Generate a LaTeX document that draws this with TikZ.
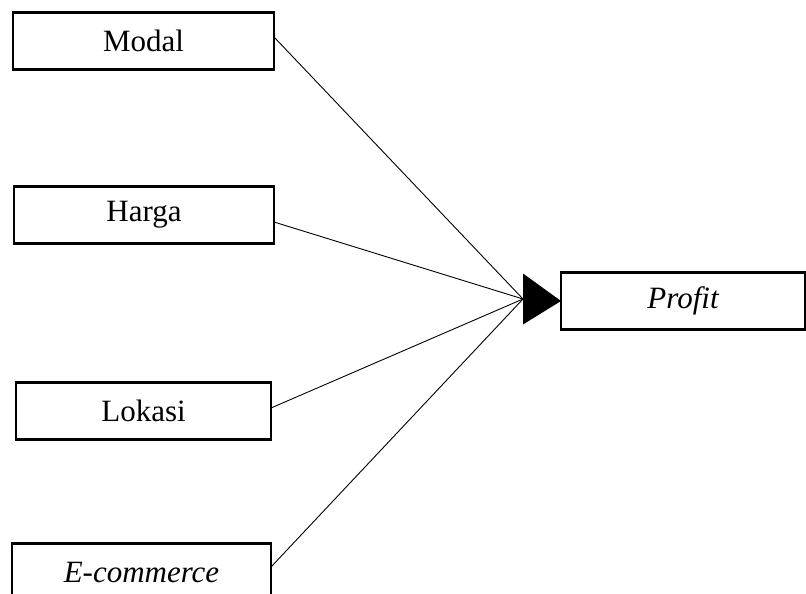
\documentclass[tikz,border=0pt]{standalone}
\usepackage{fontspec}
\setmainfont[Ligatures=CommonOff]{Liberation Serif}
\begin{document}
\begin{tikzpicture}[x=1pt,y=-1pt,
  varbox/.style={draw, line width=2.3pt, inner sep=0pt, outer sep=0pt,
    minimum height=57pt, font=\fontsize{31}{37}\selectfont},
  link/.style={line width=0.9pt}]
\useasboundingbox (0,0) rectangle (806,594);
\clip (0,0) rectangle (806,594);
% independent variables
\node[varbox, minimum width=261pt] (modal)  at (143.5,41)  {Modal};
\node[varbox, minimum width=260pt] (harga)  at (144,215)   {Harga};
\node[varbox, minimum width=255pt] (lokasi) at (143.5,411) {Lokasi};
\node[varbox, minimum width=259pt] (ecom)   at (141.5,572) {\itshape E-commerce};
% dependent variable
\node[varbox, minimum width=244pt] (profit) at (683,301)   {\itshape Profit};
% meeting point of the four links
\coordinate (apex) at (523,299);
\draw[link] ([yshift=4pt]modal.east) -- (apex);
\draw[link] ([yshift=-7pt]harga.east) -- (apex);
\draw[link] ([yshift=3pt]lokasi.east) -- (apex);
\draw[link] ([yshift=5pt]ecom.east) -- (apex);
% arrowhead into Profit
\fill ([yshift=25.5pt]apex) -- ([yshift=-25.5pt]apex) -- (profit.west) -- cycle;
\end{tikzpicture}
\end{document}
